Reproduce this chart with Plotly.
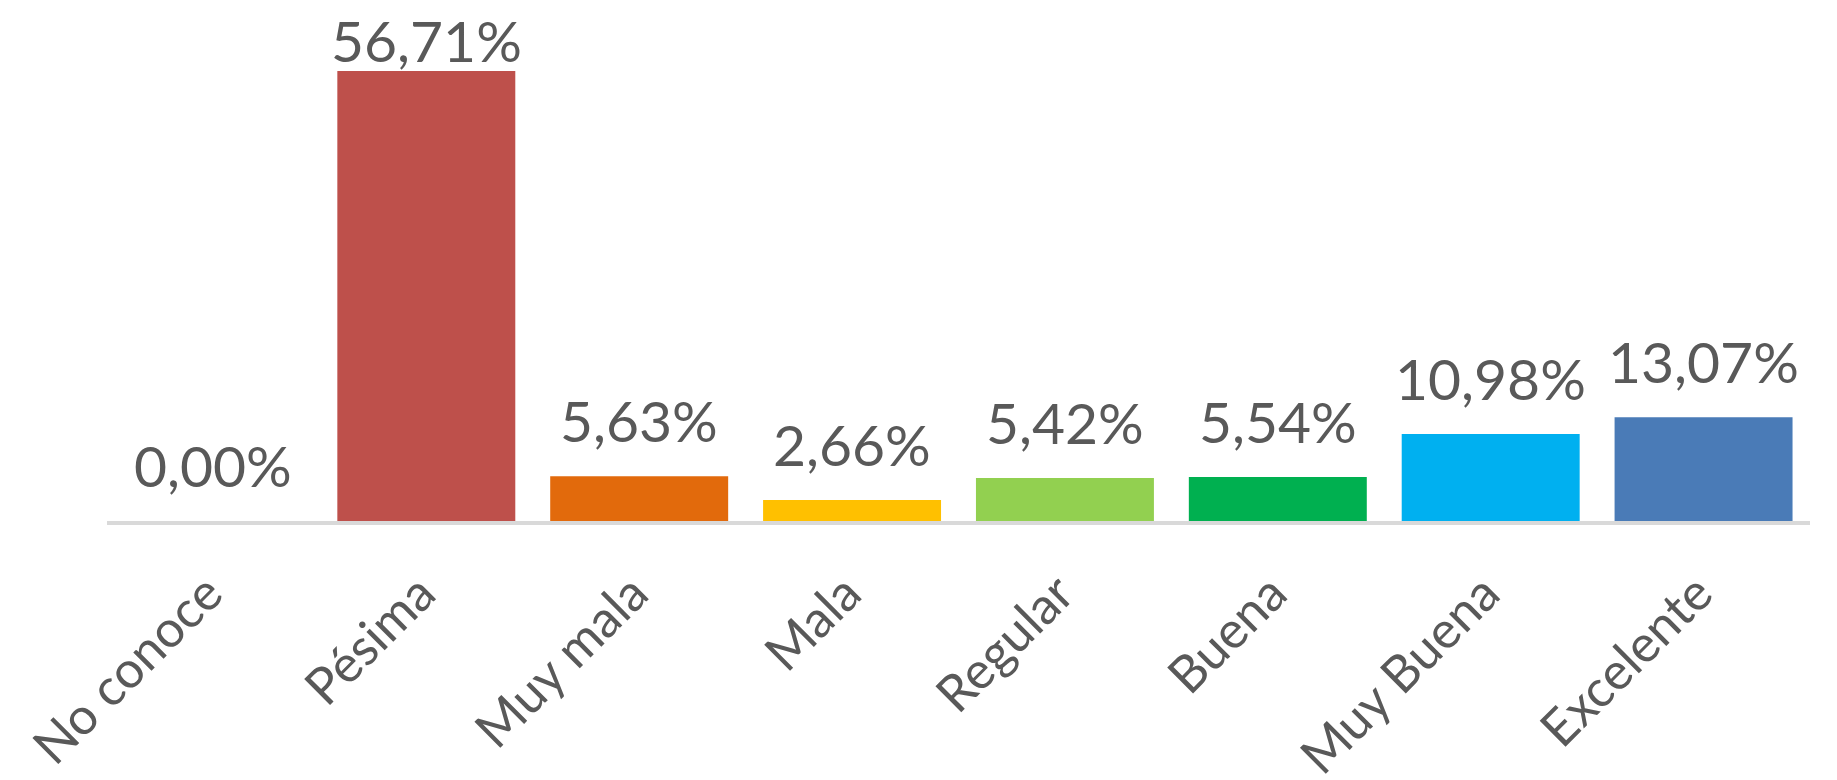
import plotly.graph_objects as go

categories = ["No conoce", "Pésima", "Muy mala", "Mala", "Regular", "Buena", "Muy Buena", "Excelente"]
values = [0.00, 56.71, 5.63, 2.66, 5.42, 5.54, 10.98, 13.07]
labels = ["0,00%", "56,71%", "5,63%", "2,66%", "5,42%", "5,54%", "10,98%", "13,07%"]
colors = ["#7F7F7F", "#BE504B", "#E26A0C", "#FFC000", "#92D050", "#00B050", "#00B0F0", "#4A7BB7"]

FONT = "Lato, Open Sans, sans-serif"
TXT = "#595959"

fig = go.Figure()
fig.add_trace(go.Bar(
    x=categories, y=values,
    marker=dict(color=colors, line=dict(width=0)),
    hoverinfo="skip",
))

for c, v, t in zip(categories, values, labels):
    shift = 56 if v < 50 else 31
    fig.add_annotation(
        x=c, y=v, text=t, showarrow=False,
        yanchor="middle", xanchor="center", yshift=shift,
        font=dict(family=FONT, size=57, color=TXT),
    )

fig.update_layout(
    width=1837, height=780,
    margin=dict(l=107, r=27, t=45, b=259),
    plot_bgcolor="white", paper_bgcolor="white",
    bargap=0.164, showlegend=False,
    xaxis=dict(
        range=[-0.5, 7.5], tickangle=-45, showgrid=False, ticks="",
        showline=True, linecolor="#D9D9D9", linewidth=4,
        tickfont=dict(family=FONT, size=51, color=TXT),
        ticklabelstandoff=18, ticklabelshift=-6,
        automargin=False,
    ),
    yaxis=dict(range=[0, 60], visible=False, showgrid=False, zeroline=False,
               automargin=False),
)

fig.write_html(
    "out.html",
    config={"displayModeBar": False, "staticPlot": True},
    post_script="document.body.style.margin='0';document.body.style.overflow='hidden';",
)
